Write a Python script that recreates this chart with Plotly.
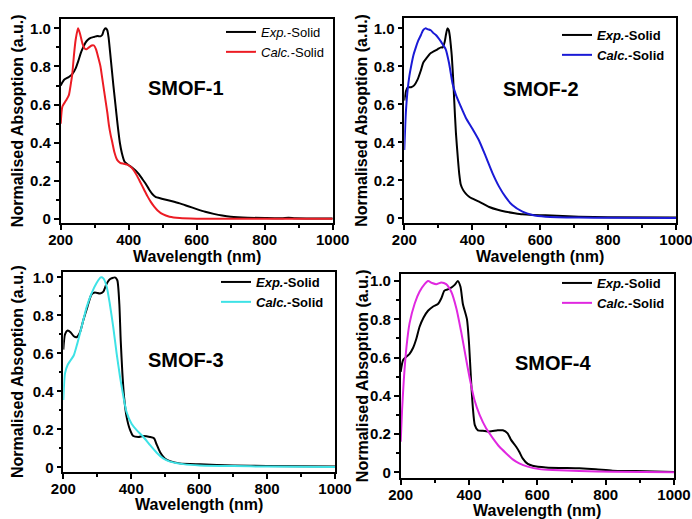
import plotly.graph_objects as go

W, H = 692, 519

# ---------------- data ----------------
# SMOF-1
wl_exp1 = [200, 210, 224, 234, 244, 252, 259, 266, 273, 280, 288, 298, 308, 317, 322, 327, 332, 337, 341, 345,
           350, 355, 361, 367, 374, 380, 388, 398, 410, 420, 430, 440, 450, 460, 470, 480, 490, 500, 525, 550,
           575, 600, 625, 650, 675, 700, 750, 800, 850, 870, 890, 950, 1000]
abs_exp1 = [0.70, 0.73, 0.745, 0.76, 0.79, 0.83, 0.87, 0.90, 0.925, 0.94, 0.95, 0.955, 0.96, 0.958, 0.965, 0.99,
            1.0, 0.99, 0.95, 0.88, 0.79, 0.70, 0.60, 0.50, 0.40, 0.345, 0.30, 0.285, 0.27, 0.255, 0.235, 0.21,
            0.185, 0.155, 0.13, 0.115, 0.11, 0.105, 0.094, 0.082, 0.067, 0.052, 0.038, 0.027, 0.018, 0.012,
            0.007, 0.005, 0.004, 0.007, 0.004, 0.003, 0.003]
wl_calc1 = [200, 205, 215, 224, 229, 234, 239, 244, 251, 257, 264, 270, 276, 283, 291, 298, 304, 310, 317, 322,
            327, 332, 337, 342, 347, 352, 358, 366, 375, 385, 396, 405, 415, 425, 435, 445, 455, 465, 475, 485,
            500, 520, 550, 600, 700, 1000]
abs_calc1 = [0.50, 0.59, 0.62, 0.65, 0.70, 0.76, 0.86, 0.94, 1.0, 0.97, 0.92, 0.895, 0.89, 0.90, 0.91, 0.91,
             0.89, 0.85, 0.80, 0.74, 0.68, 0.62, 0.56, 0.49, 0.44, 0.40, 0.35, 0.31, 0.295, 0.29, 0.285, 0.275,
             0.255, 0.225, 0.19, 0.155, 0.12, 0.09, 0.065, 0.045, 0.025, 0.012, 0.005, 0.002, 0.001, 0.001]

# SMOF-2
wl_exp2 = [200, 205, 210, 220, 229, 239, 249, 256, 264, 278, 298, 308, 313, 319, 323, 327, 331, 334, 337, 340,
           344, 347, 352, 358, 362, 366, 373, 381, 390, 399, 420, 450, 475, 499, 525, 548, 580, 616, 714, 800, 1000]
abs_exp2 = [0.62, 0.67, 0.69, 0.69, 0.70, 0.73, 0.78, 0.82, 0.84, 0.87, 0.89, 0.90, 0.90, 0.93, 0.97, 1.0, 0.99,
            0.96, 0.91, 0.85, 0.73, 0.62, 0.45, 0.31, 0.23, 0.18, 0.15, 0.13, 0.115, 0.105, 0.088, 0.06, 0.045,
            0.035, 0.027, 0.021, 0.018, 0.016, 0.009, 0.006, 0.005]
wl_calc2 = [200, 203, 205, 210, 215, 220, 227, 234, 241, 249, 255, 262, 270, 278, 286, 293, 300, 308, 315, 322,
            332, 342, 352, 366, 381, 401, 420, 440, 460, 479, 499, 518, 548, 577, 616, 714, 800, 1000]
abs_calc2 = [0.36, 0.50, 0.57, 0.68, 0.75, 0.80, 0.86, 0.90, 0.935, 0.965, 0.99, 1.0, 0.995, 0.99, 0.975, 0.965,
             0.95, 0.93, 0.91, 0.89, 0.815, 0.71, 0.65, 0.59, 0.53, 0.47, 0.41, 0.325, 0.237, 0.167, 0.11, 0.07,
             0.035, 0.018, 0.009, 0.004, 0.003, 0.002]

# SMOF-3
wl_exp3 = [200, 205, 213, 222, 231, 239, 249, 259, 271, 283, 293, 308, 318, 326, 337, 352, 359, 365, 369, 374,
           379, 386, 396, 406, 421, 436, 455, 467, 475, 485, 499, 514, 543, 602, 700, 799, 1000]
abs_exp3 = [0.62, 0.70, 0.72, 0.71, 0.69, 0.685, 0.71, 0.775, 0.845, 0.91, 0.92, 0.915, 0.925, 0.96, 0.99, 1.0,
            0.985, 0.86, 0.67, 0.495, 0.37, 0.27, 0.20, 0.165, 0.16, 0.165, 0.16, 0.153, 0.12, 0.08, 0.047, 0.033,
            0.021, 0.016, 0.01, 0.007, 0.004]
wl_calc3 = [200, 205, 213, 222, 231, 241, 254, 269, 283, 298, 310, 318, 328, 337, 347, 357, 367, 377, 386, 401,
            416, 436, 455, 475, 494, 514, 553, 602, 700, 800, 1000]
abs_calc3 = [0.355, 0.495, 0.54, 0.565, 0.59, 0.65, 0.74, 0.845, 0.915, 0.97, 1.0, 0.995, 0.95, 0.86, 0.74, 0.60,
             0.477, 0.372, 0.293, 0.23, 0.196, 0.16, 0.118, 0.077, 0.047, 0.03, 0.017, 0.01, 0.007, 0.004, 0.002]

# SMOF-4
wl_exp4 = [200, 207, 217, 226, 236, 246, 255, 267, 280, 294, 309, 319, 328, 343, 358, 367, 375, 382, 394, 400,
           406, 411, 417, 426, 440, 460, 484, 499, 513, 523, 538, 547, 557, 572, 586, 625, 723, 771, 820, 888, 1000]
abs_exp4 = [0.526, 0.587, 0.605, 0.62, 0.65, 0.70, 0.76, 0.81, 0.845, 0.866, 0.88, 0.91, 0.95, 0.96, 0.98, 1.0,
            0.97, 0.88, 0.80, 0.675, 0.48, 0.343, 0.247, 0.22, 0.218, 0.213, 0.22, 0.22, 0.204, 0.17, 0.134, 0.108,
            0.073, 0.044, 0.035, 0.026, 0.021, 0.016, 0.009, 0.007, 0.002]
wl_calc4 = [200, 204, 209, 217, 226, 241, 255, 270, 280, 292, 304, 319, 333, 348, 363, 377, 392, 403, 416, 431,
            450, 470, 489, 509, 528, 547, 572, 606, 645, 723, 820, 1000]
abs_calc4 = [0.16, 0.326, 0.48, 0.657, 0.78, 0.883, 0.944, 0.984, 1.0, 0.99, 0.984, 0.993, 0.984, 0.944, 0.857,
             0.735, 0.587, 0.483, 0.378, 0.30, 0.23, 0.178, 0.134, 0.099, 0.068, 0.047, 0.03, 0.017, 0.012, 0.007,
             0.003, 0.001]

panel_names = ["SMOF-1", "SMOF-2", "SMOF-3", "SMOF-4"]
exp_series = [(wl_exp1, abs_exp1), (wl_exp2, abs_exp2), (wl_exp3, abs_exp3), (wl_exp4, abs_exp4)]
calc_series = [(wl_calc1, abs_calc1), (wl_calc2, abs_calc2), (wl_calc3, abs_calc3), (wl_calc4, abs_calc4)]
calc_colors = ["#ec1c24", "#1a1ad6", "#3ee2e6", "#e028e0"]

x_ticks = [200, 400, 600, 800, 1000]
y_ticks = [0, 0.2, 0.4, 0.6, 0.8, 1.0]
y_tick_text = ["0", "0.2", "0.4", "0.6", "0.8", "1.0"]

# ---------------- layout geometry (pixels) ----------------
# (left, right, top, bottom) of each plot frame
frames = [(60.7, 332.7, 19.0, 223.3), (404.3, 676.0, 18.3, 223.3),
          (63.3, 335.0, 271.7, 472.3), (400.7, 674.0, 274.0, 478.3)]
y_ranges = [[-0.0225, 1.049], [-0.026, 1.053], [-0.026, 1.03], [-0.031, 1.037]]
legend_pos = [(221, 17), (557, 20), (216, 267), (557, 268)]
legend_bold = [False, True, True, True]
label_pos = [(186, 88), (541, 89), (186, 360), (553, 363)]
xtitle_y = [246, 246, 494, 500]
ytitle_x = [17, 362, 17, 362]

fig = go.Figure()
FONT = "Liberation Sans, Arial, sans-serif"

for i in range(4):
    n = "" if i == 0 else str(i + 1)
    xa, ya = "x" + n, "y" + n
    lg = "legend" + n
    fig.add_trace(go.Scatter(x=exp_series[i][0], y=exp_series[i][1], mode="lines",
                             line=dict(color="black", width=2, shape="spline", smoothing=0.6),
                             name="<i>Exp.</i>-Solid", xaxis=xa, yaxis=ya, legend=lg))
    fig.add_trace(go.Scatter(x=calc_series[i][0], y=calc_series[i][1], mode="lines",
                             line=dict(color=calc_colors[i], width=2, shape="spline", smoothing=0.6),
                             name="<i>Calc.</i>-Solid", xaxis=xa, yaxis=ya, legend=lg))

    l, r, t, b = frames[i]
    axis_common = dict(showline=True, linecolor="black", linewidth=1.5, mirror=True,
                       ticks="outside", ticklen=5, tickwidth=1.5, tickcolor="black",
                       showgrid=False, zeroline=False, automargin=False, ticklabeloverflow="allow",
                       tickfont=dict(family=FONT, size=15, color="black", weight="bold"))
    fig.layout["xaxis" + n] = dict(domain=[l / W, r / W], range=[200, 1000], anchor=ya,
                                   tickvals=x_ticks, ticklabelstandoff=-3,
                                   minor=dict(ticks="outside", ticklen=3, tickcolor="black",
                                              tickwidth=1.5, dtick=100, tick0=100),
                                   **axis_common)
    fig.layout["yaxis" + n] = dict(domain=[1 - b / H, 1 - t / H], range=y_ranges[i], anchor=xa,
                                   tickvals=y_ticks, ticktext=y_tick_text,
                                   minor=dict(ticks="outside", ticklen=3, tickcolor="black",
                                              tickwidth=1.5, dtick=0.1, tick0=0),
                                   **axis_common)
    fig.layout[lg] = dict(x=legend_pos[i][0] / W, y=1 - legend_pos[i][1] / H, xanchor="left", yanchor="top",
                          bgcolor="rgba(0,0,0,0)", borderwidth=0, tracegroupgap=0,
                          font=dict(family=FONT, size=13, color="black",
                                    weight="bold" if legend_bold[i] else "normal"))

    fig.add_annotation(text="<b>" + panel_names[i] + "</b>", x=label_pos[i][0] / W, y=1 - label_pos[i][1] / H,
                       xref="paper", yref="paper", showarrow=False, xanchor="center", yanchor="middle",
                       font=dict(family=FONT, size=20, color="black"))
    fig.add_annotation(text="<b>Wavelength (nm)</b>", x=(l + r) / 2 / W, y=1 - xtitle_y[i] / H,
                       xref="paper", yref="paper", showarrow=False, xanchor="center", yanchor="top",
                       font=dict(family=FONT, size=16, color="black"))
    fig.add_annotation(text="<b>Normalised Absoption (a.u.)</b>", x=ytitle_x[i] / W, y=1 - (t + b) / 2 / H,
                       xref="paper", yref="paper", showarrow=False, xanchor="center", yanchor="middle",
                       textangle=-90, font=dict(family=FONT, size=16, color="black"))

fig.update_layout(width=W, height=H, margin=dict(l=0, r=0, t=0, b=0, autoexpand=False),
                  paper_bgcolor="white", plot_bgcolor="white", showlegend=True)

fig.write_html("out.html", config={"displayModeBar": False},
               post_script="document.body.style.margin='0';document.body.style.overflow='hidden';")
